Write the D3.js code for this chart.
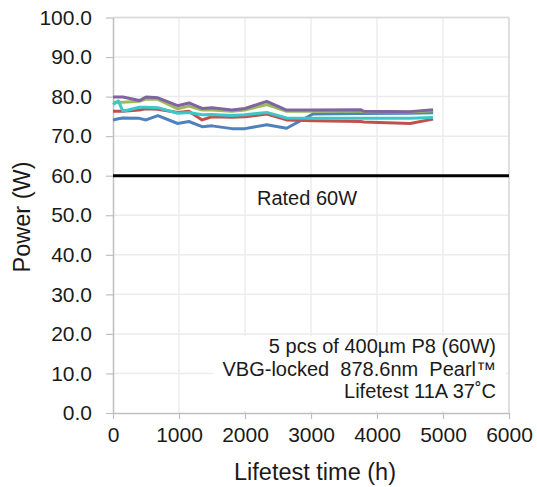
<!DOCTYPE html>
<html>
<head>
<meta charset="utf-8">
<script src="https://cdn.jsdelivr.net/npm/d3@7"></script>
<style>
  html, body { margin: 0; padding: 0; background: #fff; }
  svg { display: block; font-family: "Liberation Sans", Arial, sans-serif; }
</style>
</head>
<body>
<svg id="chart" width="537" height="487"></svg>
<script>
// ---- data ----
const hours = [0, 80, 150, 400, 500, 680, 980, 1150, 1350, 1500, 1800, 2000, 2330, 2630, 3030, 3750, 3800, 4500, 4850];
const blueValues   = [74.1, 74.4, 74.6, 74.5, 74.1, 75.2, 73.2, 73.7, 72.4, 72.6, 71.9, 71.9, 72.9, 72.0, 75.6, 75.7, 75.7, 75.8, 75.9];
const redValues    = [76.3, 76.3, 76.3, 76.6, 76.9, 76.8, 76.0, 76.3, 74.1, 74.9, 74.8, 74.9, 75.6, 74.1, 73.9, 73.7, 73.6, 73.2, 74.3];
const greenValues  = [78.6, 78.6, 78.6, 78.8, 79.4, 79.3, 76.9, 77.6, 76.6, 76.6, 76.3, 76.6, 78.0, 76.3, 76.3, 76.3, 76.2, 76.1, 76.4];
const purpleValues = [79.9, 79.9, 79.9, 79.0, 79.9, 79.7, 77.7, 78.4, 77.0, 77.2, 76.6, 77.0, 78.8, 76.6, 76.6, 76.7, 76.3, 76.2, 76.7];
const cyanValues   = [78.0, 78.9, 76.3, 77.3, 77.3, 77.2, 75.8, 76.0, 75.4, 75.5, 75.2, 75.4, 76.0, 74.6, 74.5, 74.5, 74.5, 74.5, 74.7];
const seriesNames  = ["LD1", "LD2", "LD3", "LD4", "LD5"];
const seriesColors = ["#4f81bd", "#c0504d", "#9bbb59", "#8064a2", "#3cc8c8"];
const ratedPower = 60;
const xTicks = [0, 1000, 2000, 3000, 4000, 5000, 6000];
const yTicks = [0, 10, 20, 30, 40, 50, 60, 70, 80, 90, 100];
const noteLines = ["5 pcs of 400\u00b5m P8 (60W)", "VBG-locked  878.6nm  Pearl\u2122", "Lifetest 11A 37\u02daC"];

// ---- layout ----
const svg = d3.select("#chart");
const pLeft = 113, pRight = 509, pTop = 17.5, pBottom = 413;
const x = d3.scaleLinear().domain([0, 6000]).range([pLeft, pRight]);
const y = d3.scaleLinear().domain([0, 100]).range([pBottom, pTop]);
const textColor = "#1a1a1a";

// grid
svg.append("g").selectAll("line").data(xTicks.slice(1)).join("line")
  .attr("x1", d => x(d)).attr("x2", d => x(d)).attr("y1", pTop).attr("y2", pBottom)
  .attr("stroke", "#ececec").attr("stroke-width", 1.5);
svg.append("g").selectAll("line").data(yTicks.slice(1)).join("line")
  .attr("x1", pLeft).attr("x2", pRight).attr("y1", d => y(d)).attr("y2", d => y(d))
  .attr("stroke", "#ececec").attr("stroke-width", 1.5);
// plot border top/right
svg.append("line").attr("x1", pLeft).attr("x2", pRight).attr("y1", pTop).attr("y2", pTop)
  .attr("stroke", "#d9d9d9").attr("stroke-width", 1.5);
svg.append("line").attr("x1", pRight).attr("x2", pRight).attr("y1", pTop).attr("y2", pBottom)
  .attr("stroke", "#d9d9d9").attr("stroke-width", 1.5);

// axes
const yAxis = d3.axisLeft(y).tickValues(yTicks).tickFormat(d3.format(".1f")).tickSizeInner(7).tickSizeOuter(0).tickPadding(14);
const gy = svg.append("g").attr("transform", `translate(${pLeft},0)`).call(yAxis);
const xAxis = d3.axisBottom(x).tickValues(xTicks).tickFormat(d3.format("d")).tickSizeInner(6).tickSizeOuter(0).tickPadding(8);
const gx = svg.append("g").attr("transform", `translate(0,${pBottom})`).call(xAxis);
[gx, gy].forEach(g => {
  g.select(".domain").attr("stroke", "#bfbfbf").attr("stroke-width", 1.5);
  g.selectAll(".tick line").attr("stroke", "#bfbfbf").attr("stroke-width", 1.2);
  g.selectAll(".tick text").attr("fill", textColor).style("font-size", "21px")
    .style("font-family", '"Liberation Sans", Arial, sans-serif');
});

// rated line
svg.append("line").attr("x1", pLeft).attr("x2", pRight).attr("y1", y(ratedPower)).attr("y2", y(ratedPower))
  .attr("stroke", "#000").attr("stroke-width", 3);
svg.append("text").attr("x", 307).attr("y", 205).attr("text-anchor", "middle")
  .attr("fill", textColor).style("font-size", "20px").text("Rated 60W");

// series
const allValues = [blueValues, redValues, greenValues, purpleValues, cyanValues];
const line = d3.line().x(d => x(d[0])).y(d => y(d[1]));
allValues.forEach((vals, i) => {
  svg.append("path").datum(hours.map((h, j) => [h, vals[j]]))
    .attr("d", line).attr("fill", "none").attr("stroke", seriesColors[i])
    .attr("stroke-width", 3).attr("stroke-linejoin", "round")
    .attr("data-name", seriesNames[i]);
});

// note box
svg.append("rect").attr("x", 213).attr("y", 336).attr("width", 293).attr("height", 75).attr("fill", "#fff");
svg.append("g").selectAll("text").data(noteLines).join("text")
  .attr("x", 496).attr("y", (d, i) => 353 + i * 22.6).attr("text-anchor", "end")
  .attr("fill", textColor).style("font-size", "20px").style("white-space", "pre")
  .attr("xml:space", "preserve").text(d => d);

// axis titles
svg.append("text").attr("transform", "translate(30,217) rotate(-90)").attr("text-anchor", "middle")
  .attr("fill", textColor).style("font-size", "23.5px").text("Power (W)");
svg.append("text").attr("x", 315).attr("y", 480).attr("text-anchor", "middle")
  .attr("fill", textColor).style("font-size", "23.5px").text("Lifetest time (h)");
</script>
</body>
</html>
